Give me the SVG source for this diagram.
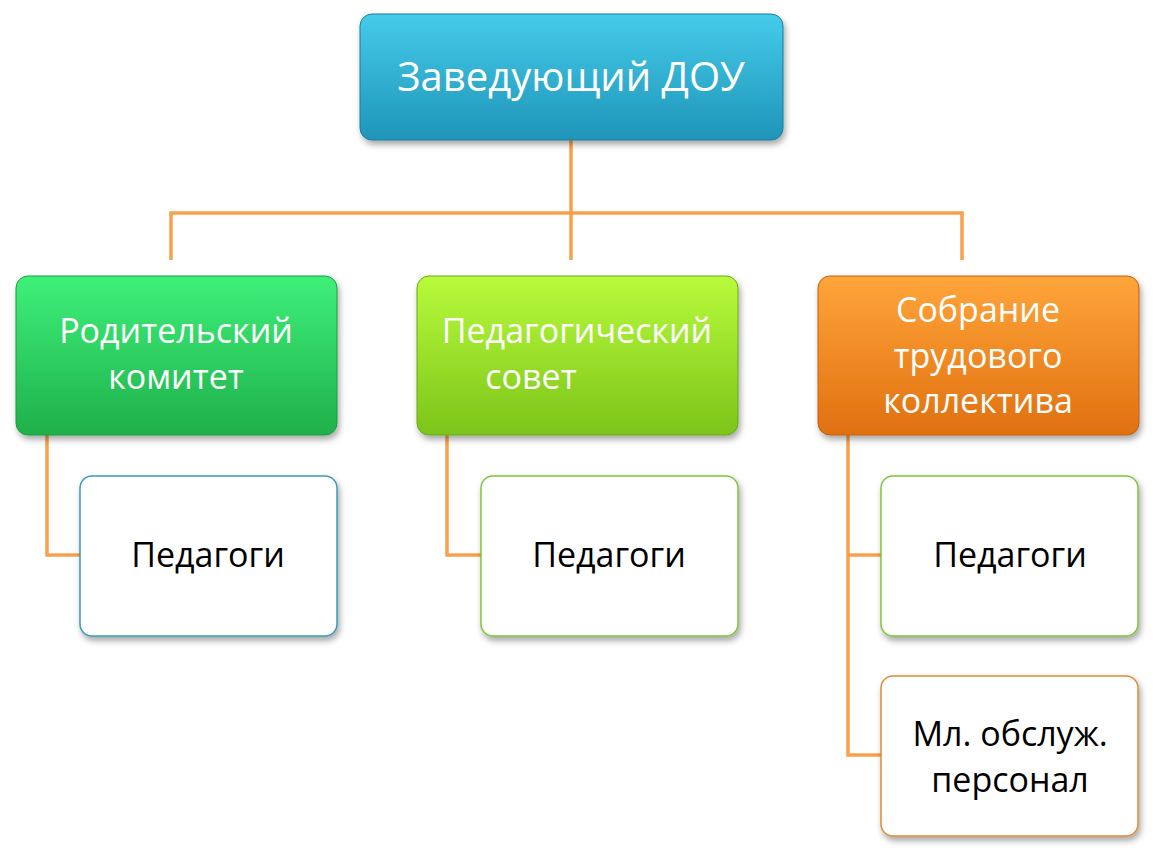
<svg xmlns="http://www.w3.org/2000/svg" width="1163" height="853" viewBox="0 0 1163 853">
<defs>
<linearGradient id="gb" x1="0" y1="0" x2="0" y2="1"><stop offset="0" stop-color="#45cbea"/><stop offset="1" stop-color="#1f95b8"/></linearGradient>
<linearGradient id="gg" x1="0" y1="0" x2="0" y2="1"><stop offset="0" stop-color="#3ef07a"/><stop offset="1" stop-color="#1fb04a"/></linearGradient>
<linearGradient id="gl" x1="0" y1="0" x2="0" y2="1"><stop offset="0" stop-color="#b8fb3c"/><stop offset="1" stop-color="#7cc41a"/></linearGradient>
<linearGradient id="go" x1="0" y1="0" x2="0" y2="1"><stop offset="0" stop-color="#ffa53a"/><stop offset="1" stop-color="#e07010"/></linearGradient>
<filter id="sh" x="-10%" y="-10%" width="120%" height="130%"><feDropShadow dx="2" dy="4" stdDeviation="3" flood-opacity="0.35"/></filter>
</defs>
<style>
.n{filter:url(#sh)}
.t{font-family:"Open Sans","Liberation Sans",sans-serif;fill:#fff;text-anchor:middle}
.d{font-family:"Open Sans","Liberation Sans",sans-serif;fill:#000;text-anchor:middle;font-size:34px}
.c{fill:none;stroke:#f8a04c;stroke-width:3.5}
.w{fill:#fff;stroke-width:1.5}
</style>
<g id="connectors">
<path class="c" d="M571 140V260M171 260V213H962V260"/>
<path class="c" d="M47 435V555H80"/>
<path class="c" d="M447 435V555H481"/>
<path class="c" d="M848 435V755H881M848 555H881"/>
</g>
<g id="n0"><rect class="n" x="360" y="14" width="423" height="126" rx="12" fill="url(#gb)" stroke="#1a7e9c"/><text class="t" x="571" y="91" font-size="40">Заведующий ДОУ</text></g>
<g id="n1"><rect class="n" x="16" y="276" width="321" height="159" rx="12" fill="url(#gg)" stroke="#1a9e40"/><text class="t" x="176" y="343" font-size="34">Родительский</text><text class="t" x="176" y="389" font-size="34">комитет</text></g>
<g id="n2"><rect class="n" x="417" y="276" width="321" height="159" rx="12" fill="url(#gl)" stroke="#6aa818"/><text class="t" x="577" y="343" font-size="34">Педагогический</text><text class="t" x="531" y="389" font-size="34">совет</text></g>
<g id="n3"><rect class="n" x="818" y="276" width="321" height="159" rx="12" fill="url(#go)" stroke="#c06010"/><text class="t" x="978" y="322" font-size="34">Собрание</text><text class="t" x="978" y="368" font-size="34">трудового</text><text class="t" x="978" y="413" font-size="34">коллектива</text></g>
<g id="n4"><rect class="n w" x="80" y="476" width="257" height="160" rx="12" stroke="#3a9ab8"/><text class="d" x="208" y="567">Педагоги</text></g>
<g id="n5"><rect class="n w" x="481" y="476" width="257" height="160" rx="12" stroke="#7cc43a"/><text class="d" x="609" y="567">Педагоги</text></g>
<g id="n6"><rect class="n w" x="881" y="476" width="257" height="160" rx="12" stroke="#7cc43a"/><text class="d" x="1010" y="567">Педагоги</text></g>
<g id="n7"><rect class="n w" x="881" y="676" width="257" height="160" rx="12" stroke="#e08a3a"/><text class="d" x="1010" y="746">Мл. обслуж.</text><text class="d" x="1010" y="792">персонал</text></g>
</svg>
